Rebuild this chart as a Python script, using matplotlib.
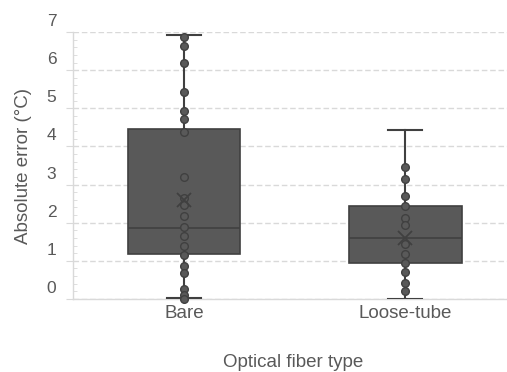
import numpy as np
import matplotlib.pyplot as plt
from matplotlib.transforms import ScaledTranslation
from matplotlib.ticker import MultipleLocator

plt.rcParams['font.family'] = ['Liberation Sans', 'DejaVu Sans']

categories = ['Bare', 'Loose-tube']

# inner points
bare_points = [6.86, 6.63, 6.18, 5.43, 4.93, 4.73, 4.37, 3.19, 2.65, 2.46,
               2.18, 1.89, 1.65, 1.39, 1.16, 0.87, 0.69, 0.25, 0.10, 0.0]
loose_points = [3.45, 3.14, 2.70, 2.44, 2.13, 1.93, 1.44, 1.17, 0.94,
                0.72, 0.42, 0.20]

# box statistics (whisker low, q1, median, q3, whisker high, mean)
whisker_low = [0.02, 0.01]
q1 = [1.17, 0.94]
median = [1.86, 1.60]
q3 = [4.45, 2.44]
whisker_high = [6.93, 4.43]
mean = [2.59, 1.59]

box_fill = '#595959'
box_edge = '#404040'
text_col = '#595959'
grid_col = '#d9d9d9'

fig = plt.figure(figsize=(5.07, 3.72), dpi=100)
ax = fig.add_axes([73 / 507, 73 / 372, 434 / 507, 267 / 372])

stats = []
for i in range(len(categories)):
    stats.append({'whislo': whisker_low[i], 'q1': q1[i], 'med': median[i],
                  'q3': q3[i], 'whishi': whisker_high[i], 'mean': mean[i],
                  'fliers': []})

positions = [1, 2]
ax.bxp(stats, positions=positions, widths=0.51, patch_artist=True,
       showmeans=False, showfliers=False,
       boxprops=dict(facecolor=box_fill, edgecolor=box_edge, linewidth=1.2),
       medianprops=dict(color=box_edge, linewidth=1.2),
       whiskerprops=dict(color=box_edge, linewidth=1.5),
       capprops=dict(color=box_edge, linewidth=1.5),
       capwidths=0.155, zorder=3)

for pos, pts in zip(positions, [bare_points, loose_points]):
    ax.plot([pos] * len(pts), pts, 'o', ms=5.5, mfc=box_fill, mec=box_edge,
            mew=1.0, zorder=4, clip_on=False)
ax.plot(positions, mean, 'x', ms=10, color=box_edge, mew=1.3, zorder=5)

ax.set_xlim(0.498, 2.46)
ax.set_ylim(0, 7)
ax.set_xticks(positions)
ax.set_xticklabels(categories)
ax.yaxis.set_major_locator(MultipleLocator(1))
ax.yaxis.set_minor_locator(MultipleLocator(0.2))

ax.grid(axis='y', which='major', color=grid_col, linestyle=(0, (4, 2)),
        linewidth=1.0, zorder=0)
ax.set_axisbelow(True)

for s in ['top', 'right']:
    ax.spines[s].set_visible(False)
ax.spines['left'].set_color(grid_col)
ax.spines['bottom'].set_color(grid_col)
ax.spines['left'].set_linewidth(1.0)
ax.spines['bottom'].set_linewidth(1.0)

ax.tick_params(axis='x', length=0, pad=4, labelsize=13.5, labelcolor=text_col)
ax.tick_params(axis='y', which='major', length=5, color=grid_col, pad=7,
               labelsize=12.5, labelcolor=text_col)
ax.tick_params(axis='y', which='minor', length=3, direction='in',
               color=grid_col)

# labels sit a little above their gridlines, as in the source chart
for lab in ax.get_yticklabels():
    lab.set_transform(lab.get_transform() +
                      ScaledTranslation(0, 12 / 100, fig.dpi_scale_trans))

ax.set_ylabel('Absolute error (°C)', fontsize=13.5, color=text_col)
ax.set_xlabel('Optical fiber type', fontsize=13.5, color=text_col)
ax.yaxis.set_label_coords(-0.0945, 0.5)
ax.xaxis.set_label_coords(0.507, -0.205)

fig.savefig('out.png', dpi=100)
